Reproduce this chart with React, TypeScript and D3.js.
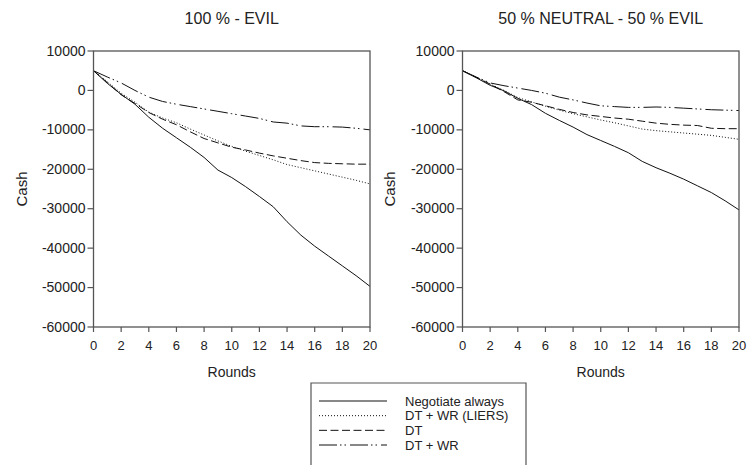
import React from "react";
import * as d3 from "d3";

const rounds = d3.range(0, 21);

const leftTitle = "100 % - EVIL";
const rightTitle = "50 % NEUTRAL - 50 % EVIL";

const seriesNames = ["Negotiate always", "DT + WR (LIERS)", "DT", "DT + WR"];

const leftNegotiate = [5000, 1800, -1000, -3500, -6800, -9600, -12000, -14400, -17000, -20200, -22100, -24400, -26900, -29500, -33300, -36700, -39500, -42000, -44500, -47000, -49700];
const leftLiers = [5000, 2200, -700, -3000, -5500, -7000, -8200, -9800, -11300, -12800, -14200, -15400, -16500, -17600, -18800, -19600, -20400, -21200, -22000, -22800, -23700];
const leftDT = [5000, 2000, -1100, -3300, -5600, -7300, -8700, -10500, -12200, -13300, -14400, -15100, -15900, -16600, -17200, -17800, -18300, -18500, -18600, -18700, -18700];
const leftDTWR = [5000, 3400, 1900, 0, -1700, -2800, -3500, -4100, -4700, -5300, -5900, -6500, -7100, -8000, -8300, -9000, -9200, -9200, -9300, -9600, -10000];

const rightNegotiate = [5000, 3200, 1300, -100, -2000, -3600, -5800, -7600, -9300, -11200, -12700, -14200, -15800, -18000, -19600, -21000, -22500, -24200, -25900, -28000, -30300];
const rightLiers = [5000, 3300, 1600, 0, -1800, -2900, -4000, -5000, -5900, -6700, -7500, -8200, -9000, -9800, -10200, -10500, -10800, -11100, -11400, -11900, -12400];
const rightDT = [5000, 3300, 1600, -300, -2400, -3000, -3900, -4800, -5600, -6200, -6600, -7000, -7300, -7800, -8300, -8600, -8800, -8900, -9600, -9700, -9700];
const rightDTWR = [5000, 3400, 1900, 1200, 600, 0, -700, -1700, -2400, -3200, -3900, -4100, -4300, -4300, -4200, -4300, -4500, -4700, -4900, -5000, -5100];

const yTicks = [10000, 0, -10000, -20000, -30000, -40000, -50000, -60000];
const xTicks = [0, 2, 4, 6, 8, 10, 12, 14, 16, 18, 20];

const dashes = ["none", "1,2", "8,3.5", "18,3,1.5,3,1.5,4"];

const FONT = "Liberation Sans, Arial, sans-serif";
const TEXT = "#222";
const AXIS = "#555";

const top = 51;
const bottom = 327;

function Panel({ x0, x1, title, data, labelX }: { x0: number; x1: number; title: string; data: number[][]; labelX: number }) {
  const xs = d3.scaleLinear().domain([0, 20]).range([x0, x1]);
  const ys = d3.scaleLinear().domain([-60000, 10000]).range([bottom, top]);
  const line = d3
    .line<number>()
    .x((_, i) => xs(rounds[i]))
    .y((d) => ys(d));
  return (
    <g>
      <text x={(x0 + x1) / 2} y={24} textAnchor="middle" fontSize={16} fill={TEXT} fontFamily={FONT}>
        {title}
      </text>
      {data.map((s, i) => (
        <path key={i} d={line(s) || ""} fill="none" stroke="#111" strokeWidth={1} strokeDasharray={dashes[i]} />
      ))}
      <rect x={x0} y={top} width={x1 - x0} height={bottom - top} fill="none" stroke={AXIS} strokeWidth={1.3} />
      {yTicks.map((t) => (
        <g key={t}>
          <line x1={x0 - 6} x2={x0} y1={ys(t)} y2={ys(t)} stroke={AXIS} strokeWidth={1.2} />
          <text x={x0 - 8} y={ys(t) + 4.5} textAnchor="end" fontSize={14} fill={TEXT} fontFamily={FONT}>
            {t}
          </text>
        </g>
      ))}
      {xTicks.map((t) => (
        <g key={t}>
          <line x1={xs(t)} x2={xs(t)} y1={bottom} y2={bottom + 5} stroke={AXIS} strokeWidth={1.2} />
          <text x={xs(t)} y={350} textAnchor="middle" fontSize={13} fill={TEXT} fontFamily={FONT}>
            {t}
          </text>
        </g>
      ))}
      <text x={(x0 + x1) / 2} y={377} textAnchor="middle" fontSize={14} fill={TEXT} fontFamily={FONT}>
        Rounds
      </text>
      <text
        transform={`translate(${labelX},${(top + bottom) / 2}) rotate(-90)`}
        textAnchor="middle"
        fontSize={15}
        fill={TEXT}
        fontFamily={FONT}
      >
        Cash
      </text>
    </g>
  );
}

export default function App() {
  const legendX = 311;
  const legendY = 383;
  const legendRows = d3.scaleLinear().domain([0, 3]).range([401, 445]);
  return (
    <svg width={749} height={465} style={{ position: "absolute", left: 0, top: 0, background: "#fff" }}>
      <rect x={0} y={0} width={749} height={465} fill="#fff" />
      <Panel x0={93.5} x1={370} title={leftTitle} data={[leftNegotiate, leftLiers, leftDT, leftDTWR]} labelX={27} />
      <Panel x0={462.5} x1={739} title={rightTitle} data={[rightNegotiate, rightLiers, rightDT, rightDTWR]} labelX={395} />
      <path d={`M${legendX},470 L${legendX},${legendY} L526,${legendY} L526,470`} fill="none" stroke={AXIS} strokeWidth={1.2} />
      {seriesNames.map((n, i) => (
        <g key={n}>
          <line x1={319} x2={387} y1={legendRows(i)} y2={legendRows(i)} stroke="#111" strokeWidth={1} strokeDasharray={dashes[i]} />
          <text x={405} y={legendRows(i) + 4.5} fontSize={13} fill={TEXT} fontFamily={FONT}>
            {n}
          </text>
        </g>
      ))}
    </svg>
  );
}
